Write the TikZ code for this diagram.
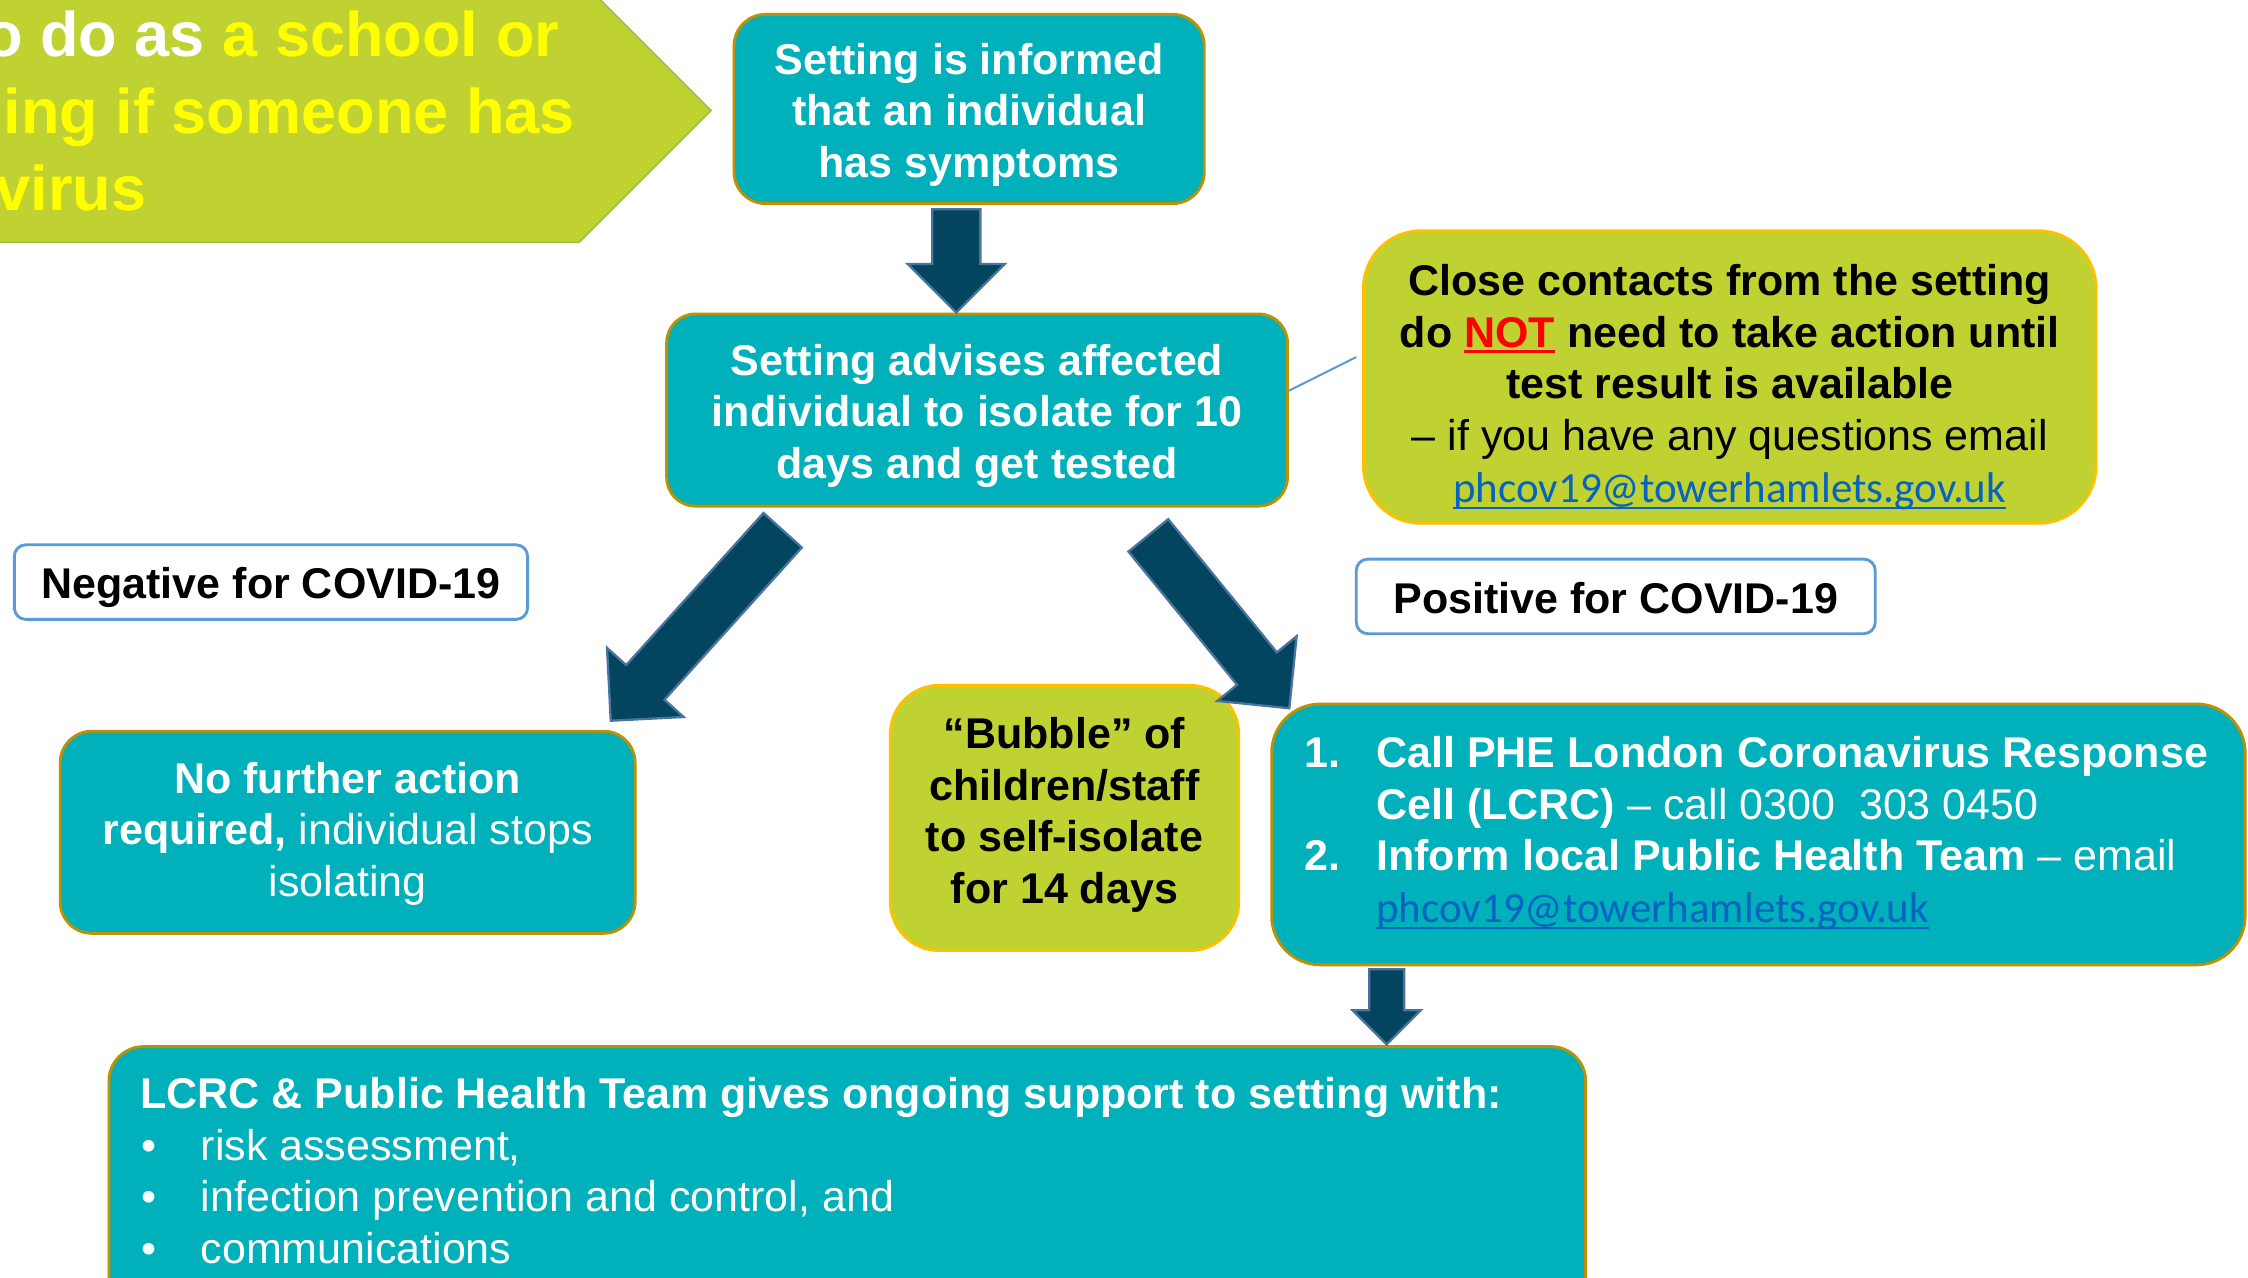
\documentclass[tikz,border=0pt]{standalone}
\usepackage{fontspec}
\setmainfont{Liberation Sans}
\newfontfamily\linkfont{Carlito}
\usetikzlibrary{shapes.arrows,calc}
\definecolor{tealfill}{RGB}{0,176,186}
\definecolor{tealedge}{RGB}{191,144,0}
\definecolor{limefill}{RGB}{191,210,50}
\definecolor{limeedge}{RGB}{255,192,0}
\definecolor{titleedge}{RGB}{160,190,60}
\definecolor{navyfill}{RGB}{3,69,94}
\definecolor{navyedge}{RGB}{74,116,160}
\definecolor{labeledge}{RGB}{91,155,213}
\definecolor{linkblue}{RGB}{5,99,193}
\definecolor{titleyellow}{RGB}{255,255,0}
\newcommand\myul[3]{\setbox0\hbox{#1}\rlap{\rule[-#2]{\wd0}{#3}}\box0}
\newcommand\maillink{{\linkfont\color{linkblue}\myul{phcov19@towerhamlets.gov.uk}{2.2pt}{0.7pt}}}
\begin{document}
\begin{tikzpicture}[x=0.5pt,y=-0.5pt,
  every node/.style={inner sep=0pt,outer sep=0pt},
  bodyfont/.style={font=\fontsize{15}{18}\selectfont},
  boldfont/.style={font=\fontsize{15}{18}\selectfont\bfseries},
  titlefont/.style={font=\fontsize{22}{26.5}\selectfont\bfseries},
  tealbox/.style={draw=tealedge,line width=1pt,fill=tealfill,rounded corners=#1},
  tealbox/.default=11pt,
  limebox/.style={draw=limeedge,line width=1pt,fill=limefill,rounded corners=#1},
  limebox/.default=18pt,
  whitetext/.style={bodyfont,text=white,align=center},
  blacktext/.style={bodyfont,text=black,align=center},
  resultlabel/.style={draw=labeledge,line width=1pt,fill=white,rounded corners=4pt},
  blockarrow/.style={single arrow,draw=navyedge,fill=navyfill,line width=0.8pt,single arrow tip angle=90,anchor=tip,inner xsep=0pt}]
\useasboundingbox (0,0) rectangle (1568,891);
\fill[white] (0,0) rectangle (1568,891);
\clip (0,0) rectangle (1568,891);

% title banner
\fill[limefill,draw=titleedge,line width=0.5pt] (-10,-15) -- (404,-15) -- (496,77) -- (404,169) -- (-10,169) -- cycle;
\node[titlefont,anchor=base east,text=white] (title1) at (390,39.5) {o do as \textcolor{titleyellow}{a school or}};
\node[titlefont,anchor=base east,text=titleyellow] (title2) at (401,93) {ing if someone has};
\node[titlefont,anchor=base east,text=titleyellow] (title3) at (102,147) {virus};

% boxes
\node[tealbox,minimum width=164pt,minimum height=66pt] (informed) at (676,76) {};
\node[whitetext,boldfont] (informedtext) at ($(informed.center)+(0,4)$)
  {Setting is informed\\that an individual\\has symptoms};

\node[tealbox=10pt,minimum width=216.5pt,minimum height=67pt] (advises) at (681.5,286) {};
\node[whitetext,boldfont] (advisestext) at ($(advises.center)+(0,4)$)
  {Setting advises affected\\individual to isolate for 10\\days and get tested};

\node[limebox=20pt,minimum width=255.5pt,minimum height=102pt] (contacts) at (1206.5,263) {};
\node[blacktext] (contactstext) at ($(contacts.center)+(0,7)$)
  {\textbf{Close contacts from the setting}\\
   \textbf{do \textcolor{red}{\myul{NOT}{2pt}{1pt}} need to take action until}\\
   \textbf{test result is available}\\
   – if you have any questions email\\
   \maillink};

\node[resultlabel,minimum width=179pt,minimum height=26pt] (negative) at (189,406) {};
\node[blacktext,boldfont] (negativetext) at ($(negative.center)+(0,4)$) {Negative for COVID-19};
\node[resultlabel,minimum width=181pt,minimum height=26pt] (positive) at (1127,416) {};
\node[blacktext,boldfont] (positivetext) at ($(positive.center)+(0,1.5)$) {Positive for COVID-19};

\node[tealbox,minimum width=200.5pt,minimum height=70.5pt] (nofurther) at (242.5,580.5) {};
\node[whitetext] (nofurthertext) at ($(nofurther.center)+(0,1)$)
  {\textbf{No further action}\\\textbf{required,} individual stops\\isolating};

\node[limebox=17pt,minimum width=121.5pt,minimum height=92.5pt] (bubble) at (742.5,570.5) {};
\node[blacktext,boldfont] (bubbletext) at ($(bubble.center)+(0,-2)$)
  {“Bubble” of\\children/staff\\to self-isolate\\for 14 days};

\node[tealbox=17pt,minimum width=339.5pt,minimum height=91pt] (lcrc) at (1226.5,582) {};
\node[bodyfont,text=white,align=left,anchor=west] (lcrctext) at (910,581)
  {\makebox[25pt][l]{\textbf{1.}}\textbf{Call PHE London Coronavirus Response}\\
   \makebox[25pt][l]{}\textbf{Cell (LCRC)} – call 0300\ \ 303 0450\\
   \makebox[25pt][l]{\textbf{2.}}\textbf{Inform local Public Health Team} – email\\
   \makebox[25pt][l]{}\maillink};

\node[tealbox=12pt,minimum width=515pt,minimum height=105pt] (support) at (591,835) {};
\node[bodyfont,text=white,align=left,anchor=west] (supporttext) at (98,816.5)
  {\textbf{LCRC \& Public Health Team gives ongoing support to setting with:}\\
   \makebox[21pt][l]{\hspace{0.5pt}•}risk assessment,\\
   \makebox[21pt][l]{\hspace{0.5pt}•}infection prevention and control, and\\
   \makebox[21pt][l]{\hspace{0.5pt}•}communications};

% thin connector
\draw[labeledge,line width=0.7pt] ($(advises.east)+(0,-13)$) -- ($(contacts.west)+(-5,-14)$);

% block arrows
\node[blockarrow,rotate=-90,minimum height=36pt,inner ysep=8pt,single arrow head extend=8.5pt] (down1) at (667,218) {};
\node[blockarrow,rotate=-132.07,minimum height=89.5pt,inner ysep=8.6pt,single arrow head extend=9pt] (toneg) at (426,502.7) {};
\node[blockarrow,rotate=-50.8,minimum height=77.8pt,inner ysep=8.55pt,single arrow head extend=8.9pt] (topos) at (899.3,494) {};
\node[blockarrow,rotate=-90,minimum height=26.2pt,inner ysep=5.7pt,single arrow head extend=5.8pt] (down2) at (967.2,728.4) {};
\end{tikzpicture}
\end{document}
